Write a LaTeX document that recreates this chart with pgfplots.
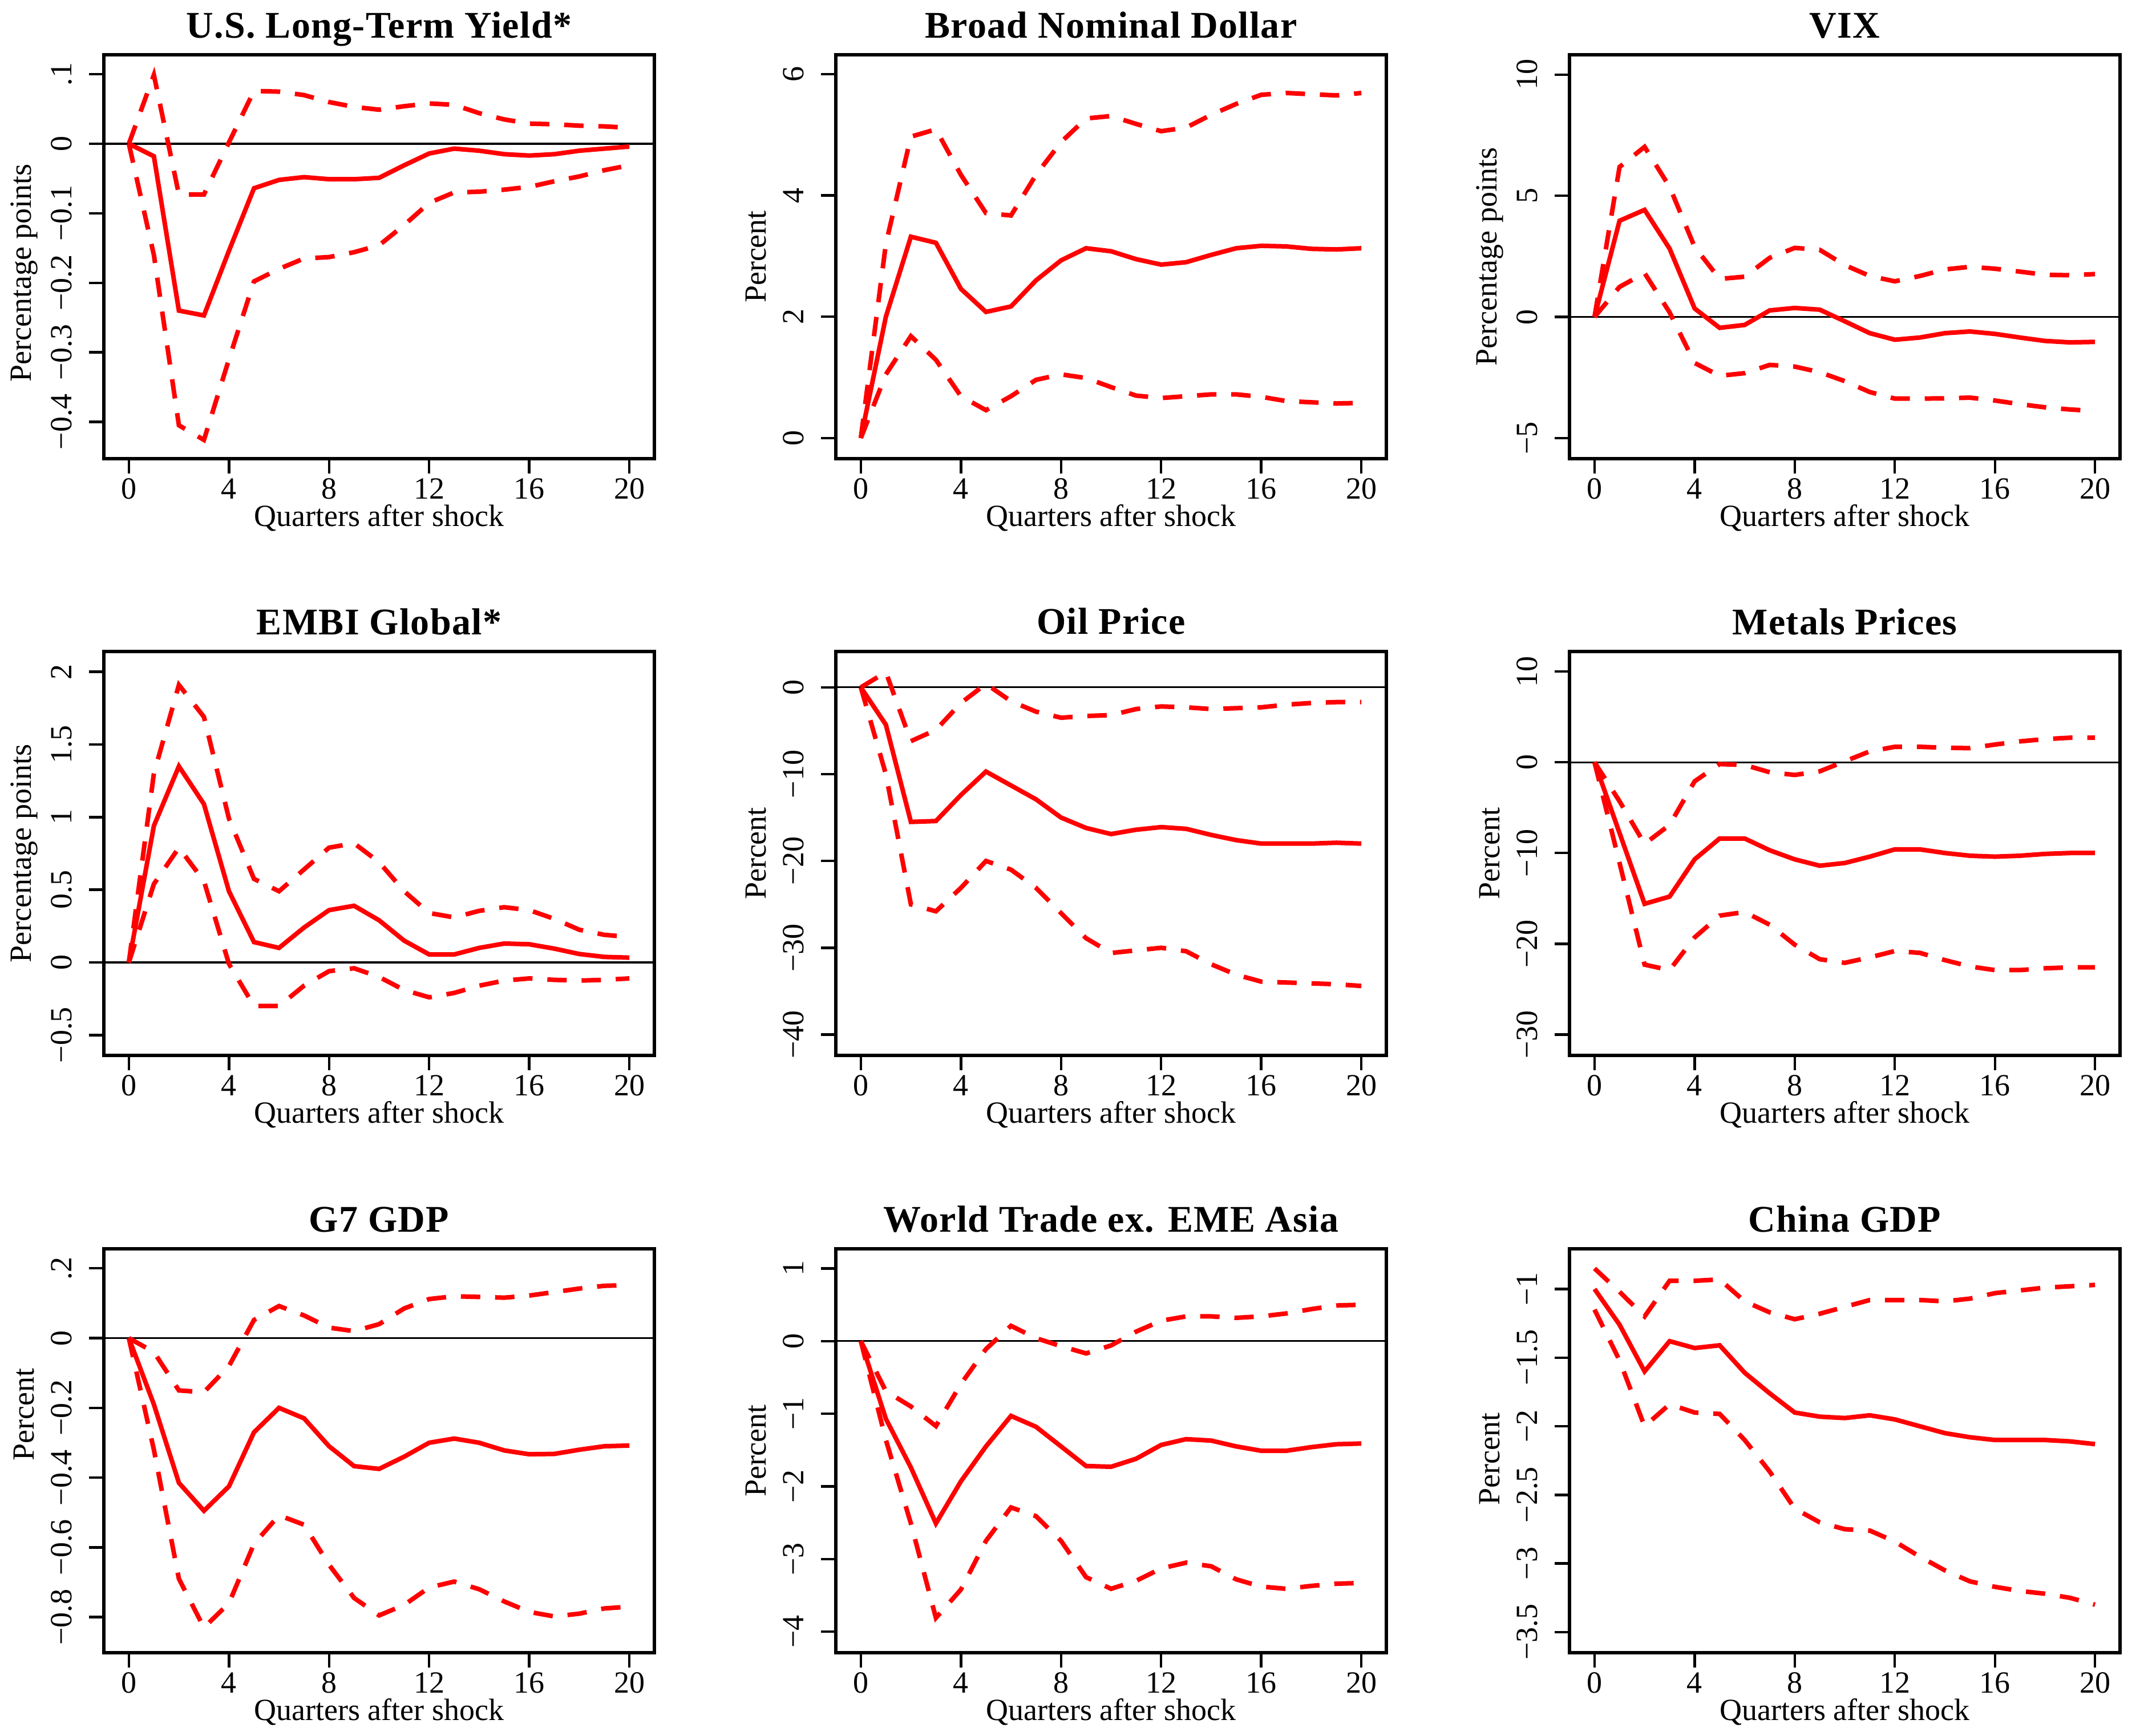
\documentclass[border=0pt]{standalone}
\usepackage{fontspec}
\setmainfont{Liberation Serif}
\newfontfamily\titlefont[LetterSpace=2]{Liberation Serif}
\usepackage{pgfplots}
\usepackage{pgfplotstable}
\pgfplotsset{compat=1.18}

% impulse responses: median (m) and upper/lower bands (hi, lo)
\pgfplotstableread{
q m hi lo
0 0 0 0
1 -0.018 0.099 -0.16
2 -0.240 -0.073 -0.405
3 -0.247 -0.073 -0.426
4 -0.154 0.002 -0.31
5 -0.064 0.076 -0.198
6 -0.052 0.075 -0.180
7 -0.048 0.070 -0.165
8 -0.051 0.060 -0.163
9 -0.051 0.053 -0.156
10 -0.049 0.049 -0.146
11 -0.031 0.054 -0.117
12 -0.014 0.058 -0.085
13 -0.007 0.056 -0.070
14 -0.010 0.044 -0.069
15 -0.015 0.035 -0.066
16 -0.017 0.029 -0.062
17 -0.015 0.028 -0.054
18 -0.010 0.026 -0.047
19 -0.007 0.025 -0.038
20 -0.004 0.023 -0.031
}\yld

\pgfplotstableread{
q m hi lo
0 0 0 0
1 2.00 3.2 1.05
2 3.32 4.97 1.68
3 3.22 5.09 1.29
4 2.46 4.34 0.69
5 2.08 3.71 0.46
6 2.17 3.67 0.69
7 2.60 4.34 0.96
8 2.93 4.88 1.05
9 3.13 5.27 0.99
10 3.08 5.31 0.84
11 2.95 5.18 0.70
12 2.86 5.06 0.66
13 2.90 5.12 0.69
14 3.02 5.33 0.72
15 3.13 5.51 0.72
16 3.17 5.66 0.68
17 3.16 5.69 0.61
18 3.12 5.67 0.59
19 3.11 5.65 0.57
20 3.13 5.69 0.58
}\dollar

\pgfplotstableread{
q m hi lo
0 0 0 0
1 3.97 6.19 1.24
2 4.42 7.02 1.81
3 2.82 5.37 0.19
4 0.35 2.89 -1.90
5 -0.45 1.57 -2.43
6 -0.33 1.66 -2.32
7 0.27 2.44 -1.98
8 0.37 2.85 -2.05
9 0.30 2.77 -2.28
10 -0.18 2.14 -2.65
11 -0.67 1.69 -3.10
12 -0.94 1.47 -3.37
13 -0.85 1.69 -3.37
14 -0.67 1.96 -3.36
15 -0.60 2.07 -3.33
16 -0.70 1.99 -3.45
17 -0.85 1.87 -3.60
18 -0.99 1.74 -3.73
19 -1.05 1.72 -3.82
20 -1.03 1.77 -3.88
}\vix

\pgfplotstableread{
q m hi lo
0 0 0 0
1 0.94 1.30 0.54
2 1.35 1.91 0.79
3 1.09 1.69 0.56
4 0.49 0.99 -0.01
5 0.14 0.575 -0.30
6 0.10 0.49 -0.30
7 0.24 0.64 -0.16
8 0.36 0.79 -0.06
9 0.39 0.82 -0.04
10 0.29 0.69 -0.10
11 0.15 0.49 -0.19
12 0.055 0.34 -0.24
13 0.055 0.31 -0.21
14 0.10 0.355 -0.16
15 0.13 0.38 -0.125
16 0.125 0.36 -0.11
17 0.095 0.30 -0.12
18 0.058 0.225 -0.125
19 0.038 0.19 -0.12
20 0.033 0.175 -0.11
}\embi

\pgfplotstableread{
q m hi lo
0 0 0 0
1 -4.3 1.75 -10.0
2 -15.5 -6.2 -25.0
3 -15.4 -4.9 -25.8
4 -12.4 -1.8 -23.1
5 -9.7 0.4 -20.0
6 -11.3 -1.6 -21.0
7 -12.9 -2.8 -23.1
8 -15.0 -3.5 -26.0
9 -16.2 -3.3 -28.9
10 -16.9 -3.2 -30.6
11 -16.4 -2.5 -30.3
12 -16.1 -2.2 -30.0
13 -16.3 -2.3 -30.4
14 -17.0 -2.5 -31.9
15 -17.6 -2.4 -33.1
16 -18.0 -2.3 -33.9
17 -18.0 -2.0 -34.0
18 -18.0 -1.8 -34.1
19 -17.9 -1.7 -34.2
20 -18.0 -1.7 -34.4
}\oil

\pgfplotstableread{
q m hi lo
0 0 0 0
1 -7.8 -4.3 -11.1
2 -15.6 -9.0 -22.3
3 -14.8 -6.9 -22.9
4 -10.7 -2.1 -19.3
5 -8.4 -0.2 -16.9
6 -8.4 -0.3 -16.5
7 -9.7 -1.1 -17.9
8 -10.7 -1.4 -20.1
9 -11.4 -1.0 -21.7
10 -11.1 0.1 -22.1
11 -10.4 1.2 -21.5
12 -9.6 1.7 -20.8
13 -9.6 1.7 -21.0
14 -10.0 1.6 -21.8
15 -10.3 1.55 -22.5
16 -10.4 1.95 -22.9
17 -10.3 2.3 -22.9
18 -10.1 2.55 -22.7
19 -10.0 2.7 -22.6
20 -10.0 2.7 -22.6
}\metals

\pgfplotstableread{
q m hi lo
0 0 0 0
1 -0.19 -0.04 -0.32
2 -0.415 -0.15 -0.69
3 -0.495 -0.155 -0.83
4 -0.425 -0.08 -0.76
5 -0.27 0.052 -0.59
6 -0.20 0.092 -0.508
7 -0.23 0.065 -0.535
8 -0.31 0.03 -0.65
9 -0.367 0.02 -0.745
10 -0.375 0.04 -0.795
11 -0.34 0.085 -0.765
12 -0.30 0.112 -0.715
13 -0.288 0.12 -0.698
14 -0.30 0.118 -0.72
15 -0.322 0.116 -0.755
16 -0.333 0.122 -0.785
17 -0.332 0.132 -0.798
18 -0.32 0.142 -0.79
19 -0.31 0.15 -0.775
20 -0.308 0.152 -0.77
}\gseven

\pgfplotstableread{
q m hi lo
0 0 0 0
1 -1.07 -0.69 -1.36
2 -1.74 -0.90 -2.51
3 -2.51 -1.17 -3.81
4 -1.93 -0.59 -3.42
5 -1.45 -0.11 -2.75
6 -1.03 0.21 -2.29
7 -1.18 0.04 -2.41
8 -1.45 -0.07 -2.75
9 -1.72 -0.17 -3.25
10 -1.73 -0.06 -3.41
11 -1.62 0.13 -3.30
12 -1.43 0.28 -3.13
13 -1.35 0.34 -3.05
14 -1.37 0.34 -3.10
15 -1.45 0.32 -3.28
16 -1.51 0.34 -3.38
17 -1.51 0.38 -3.41
18 -1.46 0.44 -3.37
19 -1.42 0.49 -3.34
20 -1.41 0.50 -3.33
}\trade

\pgfplotstableread{
q m hi lo
0 -1.00 -0.85 -1.15
1 -1.26 -1.02 -1.52
2 -1.60 -1.20 -2.00
3 -1.38 -0.94 -1.84
4 -1.43 -0.94 -1.90
5 -1.41 -0.93 -1.91
6 -1.61 -1.09 -2.10
7 -1.76 -1.17 -2.33
8 -1.90 -1.22 -2.60
9 -1.93 -1.18 -2.70
10 -1.94 -1.13 -2.75
11 -1.92 -1.08 -2.76
12 -1.95 -1.08 -2.84
13 -2.00 -1.08 -2.95
14 -2.05 -1.09 -3.05
15 -2.08 -1.07 -3.13
16 -2.10 -1.03 -3.17
17 -2.10 -1.01 -3.20
18 -2.10 -0.99 -3.22
19 -2.11 -0.98 -3.25
20 -2.13 -0.97 -3.30
}\china

\pgfplotsset{
  irf/.style={
    scale only axis,
    width=241.25pt, height=177pt,
    anchor=south west,
    xmin=-1, xmax=21,
    xtick={0,4,...,20},
    xticklabels={0,4,8,12,16,20},
    tick pos=left,
    tick align=outside,
    major tick length=6.5pt,
    tick style={line width=1.1pt, black},
    axis line style={line width=1.5pt},
    xlabel={Quarters after shock},
    label style={font=\fontsize{13.5}{16}\selectfont},
    tick label style={font=\fontsize{13.5}{16}\selectfont},
    xticklabel style={anchor=base, yshift=-11.15pt},
    yticklabel style={xshift=-7.6pt, rotate=90, anchor=base},
    xlabel style={at={(axis description cs:0.5,0)}, anchor=center, yshift=-26pt},
    ylabel style={at={(axis description cs:-0.145,0.5)}, anchor=center},
    title style={font=\titlefont\bfseries\fontsize{16.5}{19}\selectfont,
      at={(axis description cs:0.5,1)}, anchor=base, yshift=1.5pt},
  },
  irfline/.style={red, line width=2pt, no marks},
  irfdash/.style={dash pattern=on 8.5pt off 6.5pt},
}

\newcommand{\zeroline}{\addplot[black, line width=0.8pt, no marks] coordinates {(-1,0) (21,0)};}
\newcommand{\irflines}[1]{
\addplot[irfline] table[x=q, y=m]{#1};
\addplot[irfline, irfdash] table[x=q, y=hi]{#1};
\addplot[irfline, irfdash] table[x=q, y=lo]{#1};
}

\begin{document}
\begin{tikzpicture}
\path[use as bounding box] (0pt,0pt) rectangle (937.75pt,-760.75pt);

% row 1
\begin{axis}[irf, at={(45.5pt,-201pt)},
  title={U.S. Long-Term Yield*}, ylabel={Percentage points},
  ylabel style={at={(axis description cs:-0.145,0.46)}},
  ymin=-0.453, ymax=0.128,
  ytick={-0.4,-0.3,-0.2,-0.1,0,0.1},
  yticklabels={−0.4,−0.3,−0.2,−0.1,0,.1}]
\zeroline
\irflines{\yld}
\end{axis}

\begin{axis}[irf, at={(366.25pt,-201pt)},
  title={Broad Nominal Dollar}, ylabel={Percent},
  ymin=-0.34, ymax=6.32,
  ytick={0,2,4,6}, yticklabels={0,2,4,6}]
\irflines{\dollar}
\end{axis}

\begin{axis}[irf, at={(687.75pt,-201pt)},
  title={VIX}, ylabel={Percentage points},
  ymin=-5.85, ymax=10.82,
  ytick={-5,0,5,10}, yticklabels={−5,0,5,10}]
\zeroline
\irflines{\vix}
\end{axis}

% row 2
\begin{axis}[irf, at={(45.5pt,-462.5pt)},
  title={EMBI Global*}, ylabel={Percentage points},
  ymin=-0.64, ymax=2.14,
  ytick={-0.5,0,0.5,1,1.5,2},
  yticklabels={−0.5,0,0.5,1,1.5,2}]
\zeroline
\irflines{\embi}
\end{axis}

\begin{axis}[irf, at={(366.25pt,-462.5pt)},
  title={Oil Price}, ylabel={Percent},
  ymin=-42.4, ymax=4.13,
  ytick={-40,-30,-20,-10,0},
  yticklabels={−40,−30,−20,−10,0}]
\zeroline
\irflines{\oil}
\end{axis}

\begin{axis}[irf, at={(687.75pt,-462.5pt)},
  title={Metals Prices}, ylabel={Percent},
  ymin=-32.3, ymax=12.2,
  ytick={-30,-20,-10,0,10},
  yticklabels={−30,−20,−10,0,10}]
\zeroline
\irflines{\metals}
\end{axis}

% row 3
\begin{axis}[irf, at={(45.5pt,-724.25pt)},
  title={G7 GDP}, ylabel={Percent},
  ylabel style={at={(axis description cs:-0.145,0.59)}},
  ymin=-0.902, ymax=0.256,
  ytick={-0.8,-0.6,-0.4,-0.2,0,0.2},
  yticklabels={−0.8,−0.6,−0.4,−0.2,0,.2}]
\zeroline
\irflines{\gseven}
\end{axis}

\begin{axis}[irf, at={(366.25pt,-724.25pt)},
  title={World Trade ex. EME Asia}, ylabel={Percent},
  ymin=-4.29, ymax=1.27,
  ytick={-4,-3,-2,-1,0,1},
  yticklabels={−4,−3,−2,−1,0,1}]
\zeroline
\irflines{\trade}
\end{axis}

\begin{axis}[irf, at={(687.75pt,-724.25pt)},
  title={China GDP}, ylabel={Percent},
  ylabel style={at={(axis description cs:-0.145,0.48)}},
  ymin=-3.65, ymax=-0.707,
  ytick={-3.5,-3,-2.5,-2,-1.5,-1},
  yticklabels={−3.5,−3,−2.5,−2,−1.5,−1}]
\irflines{\china}
\end{axis}
\end{tikzpicture}
\end{document}
